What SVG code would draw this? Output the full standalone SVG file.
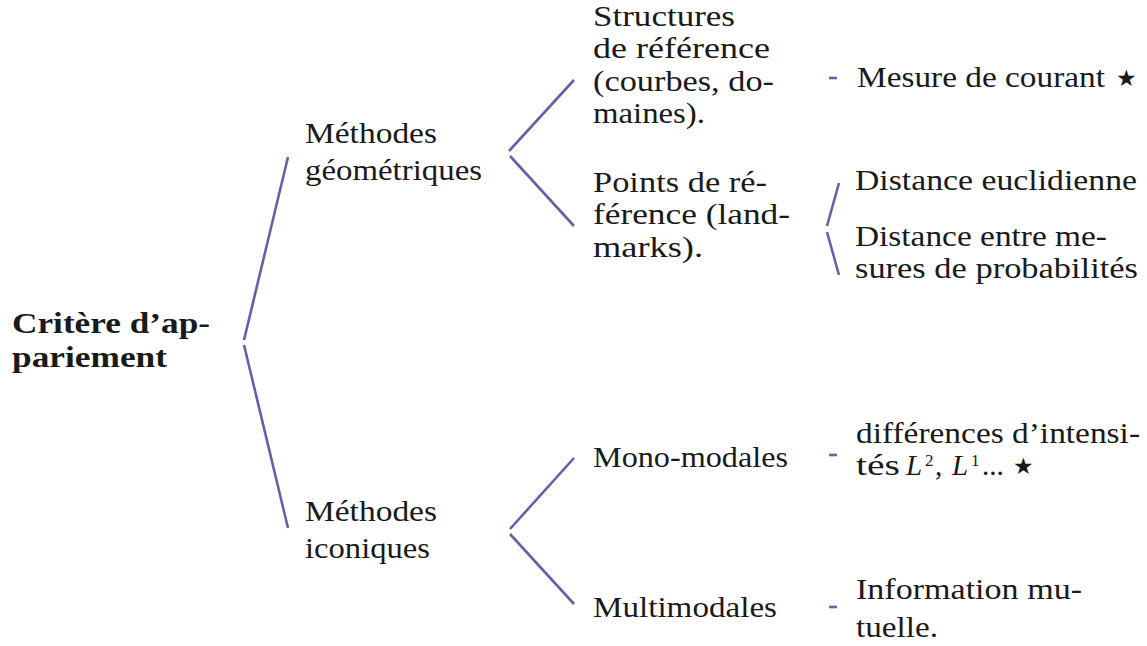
<svg xmlns="http://www.w3.org/2000/svg" width="1147" height="646" viewBox="0 0 1147 646">
<style>
text{font-family:'Liberation Serif',Tinos,'Times New Roman',Times,serif}
.t{font-size:29px;fill:#1a1a1a}
.b{font-weight:bold}
.sup{font-size:17px;fill:#1a1a1a}
.c{stroke:#6262a6;stroke-width:2.6;fill:none;stroke-linecap:butt}
.star{font-size:23px;fill:#1a1a1a}
</style>
<rect width="1147" height="646" fill="#ffffff"/>
<g id="connectors">
<line class="c" x1="288" y1="157" x2="244" y2="340"/>
<line class="c" x1="244" y1="345" x2="288" y2="528"/>
<line class="c" x1="509" y1="151" x2="574" y2="80"/>
<line class="c" x1="510" y1="156" x2="574" y2="226"/>
<line class="c" x1="510" y1="529" x2="574" y2="458"/>
<line class="c" x1="510" y1="534" x2="574" y2="604"/>
<line class="c" x1="839" y1="183" x2="827" y2="226"/>
<line class="c" x1="827" y1="232" x2="839" y2="275"/>
<line class="c" x1="829" y1="78" x2="837" y2="78"/>
<line class="c" x1="829" y1="455" x2="837" y2="455"/>
<line class="c" x1="829" y1="607" x2="837" y2="607"/>
</g>
<g id="root">
<text class="t b" x="12" y="333" textLength="198" lengthAdjust="spacingAndGlyphs">Critère d’ap-</text>
<text class="t b" x="12" y="367" textLength="155" lengthAdjust="spacingAndGlyphs">pariement</text>
</g>
<g id="geo">
<text class="t" x="305" y="143" textLength="132" lengthAdjust="spacingAndGlyphs">Méthodes</text>
<text class="t" x="305" y="180" textLength="177" lengthAdjust="spacingAndGlyphs">géométriques</text>
</g>
<g id="icon">
<text class="t" x="305" y="521" textLength="132" lengthAdjust="spacingAndGlyphs">Méthodes</text>
<text class="t" x="305" y="558" textLength="125" lengthAdjust="spacingAndGlyphs">iconiques</text>
</g>
<g id="struct">
<text class="t" x="593" y="26" textLength="142" lengthAdjust="spacingAndGlyphs">Structures</text>
<text class="t" x="593" y="58" textLength="177" lengthAdjust="spacingAndGlyphs">de référence</text>
<text class="t" x="593" y="91" textLength="181" lengthAdjust="spacingAndGlyphs">(courbes, do-</text>
<text class="t" x="593" y="123" textLength="112" lengthAdjust="spacingAndGlyphs">maines).</text>
</g>
<g id="points">
<text class="t" x="593" y="192" textLength="174" lengthAdjust="spacingAndGlyphs">Points de ré-</text>
<text class="t" x="593" y="224" textLength="197" lengthAdjust="spacingAndGlyphs">férence (land-</text>
<text class="t" x="593" y="257" textLength="110" lengthAdjust="spacingAndGlyphs">marks).</text>
</g>
<g id="mono">
<text class="t" x="593" y="467" textLength="195" lengthAdjust="spacingAndGlyphs">Mono-modales</text>
</g>
<g id="multi">
<text class="t" x="593" y="617" textLength="184" lengthAdjust="spacingAndGlyphs">Multimodales</text>
</g>
<g id="mesure">
<text class="t" x="857" y="87" textLength="248" lengthAdjust="spacingAndGlyphs">Mesure de courant</text>
<text class="star" x="1116" y="86" font-family="DejaVu Sans, sans-serif">★</text>
</g>
<g id="eucl">
<text class="t" x="855" y="190" textLength="282" lengthAdjust="spacingAndGlyphs">Distance euclidienne</text>
</g>
<g id="proba">
<text class="t" x="855" y="246" textLength="252" lengthAdjust="spacingAndGlyphs">Distance entre me-</text>
<text class="t" x="855" y="278" textLength="283" lengthAdjust="spacingAndGlyphs">sures de probabilités</text>
</g>
<g id="intens">
<text class="t" x="856" y="443" textLength="284" lengthAdjust="spacingAndGlyphs">différences d’intensi-</text>
<text class="t" x="856" y="475" textLength="44" lengthAdjust="spacingAndGlyphs">tés</text>
<text class="t" x="906" y="475" font-style="italic">L</text>
<text class="sup" x="925" y="466">2</text>
<text class="t" x="935" y="475">,</text>
<text class="t" x="952" y="475" font-style="italic">L</text>
<text class="sup" x="971" y="466">1</text>
<text class="t" x="982" y="475">...</text>
<text class="star" x="1013" y="474" font-family="DejaVu Sans, sans-serif">★</text>
</g>
<g id="info">
<text class="t" x="856" y="599" textLength="226" lengthAdjust="spacingAndGlyphs">Information mu-</text>
<text class="t" x="856" y="637" textLength="82" lengthAdjust="spacingAndGlyphs">tuelle.</text>
</g>
</svg>
